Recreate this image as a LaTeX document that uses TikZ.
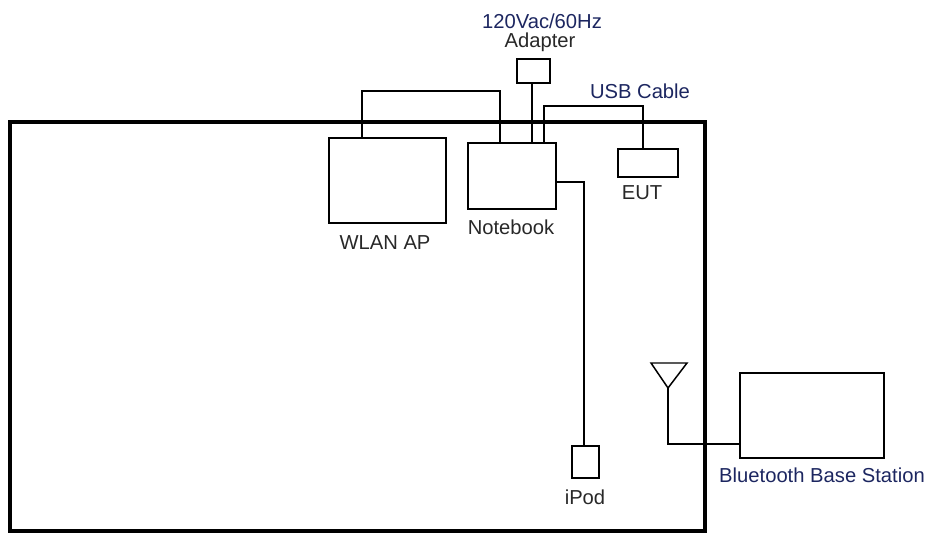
\documentclass[tikz,border=0pt]{standalone}
\usepackage{fontspec}
\setmainfont{Liberation Sans}
\usepackage{tikz}

\definecolor{lbltext}{RGB}{40,40,40}
\definecolor{bluetext}{RGB}{28,38,96}

\tikzset{
    unit/.style={draw, line width=0.85pt, inner sep=0pt, outer sep=0pt},
    cable/.style={line width=0.85pt},
    lbl/.style={inner sep=0pt, text=lbltext, font=\fontsize{11.5}{13}\selectfont},
    bluelbl/.style={lbl, text=bluetext}
}

\begin{document}
\begin{tikzpicture}[x=0.02cm, y=-0.02cm]
        \useasboundingbox (0, 0) rectangle (940, 533);
        % test room
        \draw[line width=2.3pt] (10, 122) rectangle (705, 531);
        % equipment
        \node[unit, minimum width=2.34cm, minimum height=1.7cm] (wlan) at (387.5, 180.5) {};
        \node[unit, minimum width=1.76cm, minimum height=1.32cm] (nb) at (512, 176) {};
        \node[unit, minimum width=0.66cm, minimum height=0.48cm] (adp) at (533.5, 71) {};
        \node[unit, minimum width=1.2cm, minimum height=0.56cm] (eut) at (648, 163) {};
        \node[unit, minimum width=0.54cm, minimum height=0.64cm] (ipod) at (585.5, 462) {};
        \node[unit, minimum width=2.88cm, minimum height=1.7cm] (bt) at (812, 415.5) {};
        \draw[cable] (651, 363) -- (687, 363) -- (668, 388) -- cycle;
        \coordinate (ant) at (668, 388);
        % cables
        \draw[cable] (wlan.north -| 362,0) -- ++(0, -47) -| (nb.north -| 500,0);
        \draw[cable] (adp.south -| 532,0) -- (nb.north -| 532,0);
        \draw[cable] (nb.north -| 544,0) -- ++(0, -37) -| (eut.north -| 643,0);
        \draw[cable] (nb.east |- 0,182) -| (ipod.north -| 584,0);
        \draw[cable] (ant) |- (bt.west |- 0,444);
        % labels
        \node[bluelbl] (acl) at (542, 21) {120Vac/60Hz};
        \node[lbl] (adpl) at (540, 42) {Adapter};
        \node[bluelbl] (usbl) at (640, 91) {USB Cable};
        \node[lbl] (eutl) at (642, 193) {EUT};
        \node[lbl] (nbl) at (511, 227) {Notebook};
        \node[lbl] (wlanl) at (385, 243) {WLAN AP};
        \node[lbl] (ipodl) at (585, 497) {iPod};
        \node[bluelbl] (btl) at (822, 475) {Bluetooth Base Station};
\end{tikzpicture}
\end{document}
